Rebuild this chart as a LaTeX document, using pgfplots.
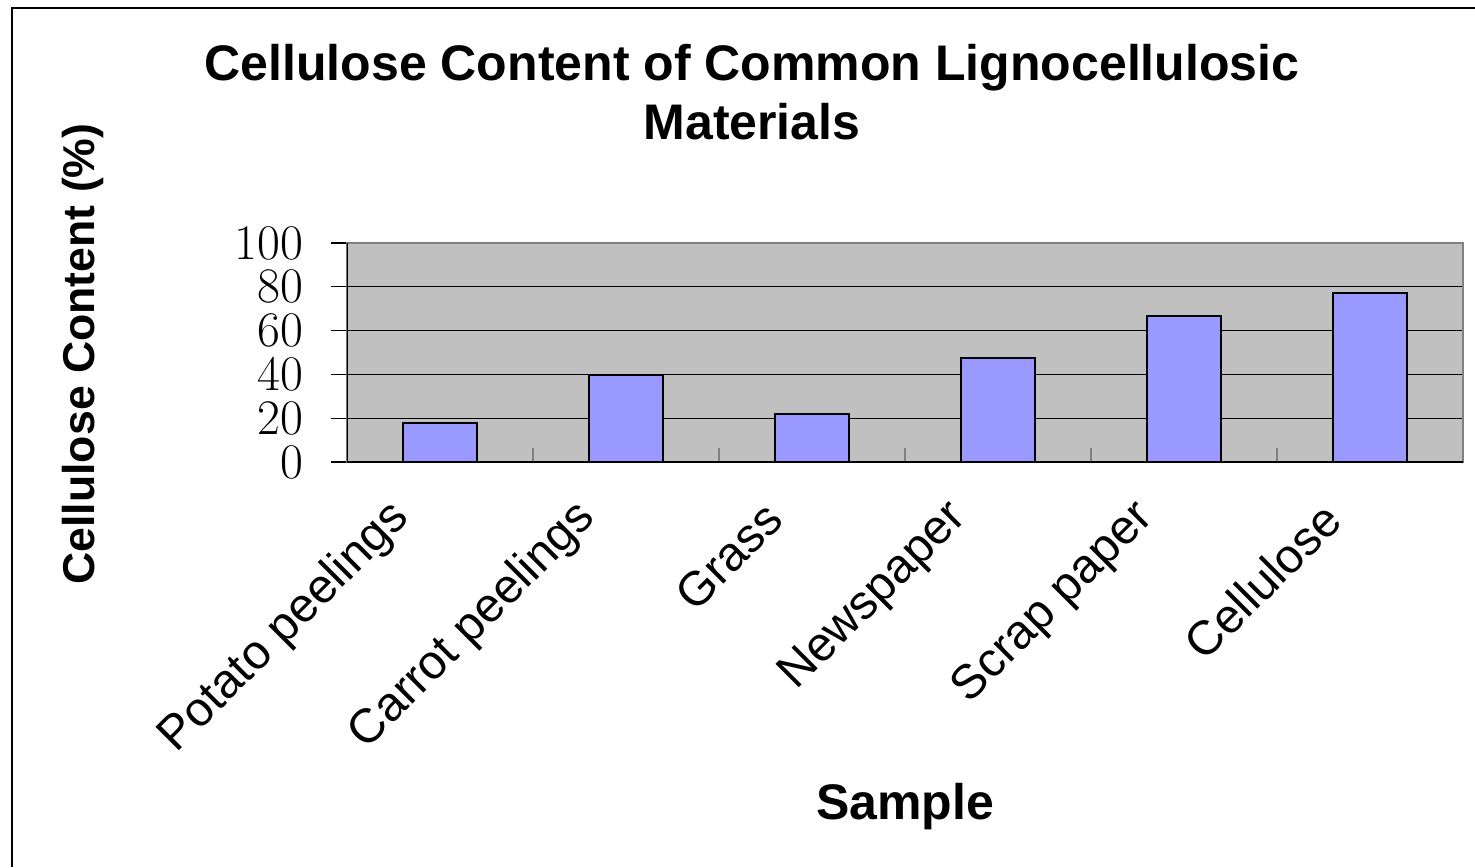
\documentclass[border=0pt]{standalone}
\usepackage{pgfplots}
\pgfplotsset{compat=1.18}
\usepackage{fontspec}
\setmainfont{Liberation Sans}
\definecolor{plotbg}{HTML}{C0C0C0}
\definecolor{barfill}{HTML}{9999FF}
\definecolor{frameg}{HTML}{808080}

\begin{document}
\begin{tikzpicture}
\useasboundingbox (-173.5pt,-202.5pt) rectangle (564pt,231pt);
\draw[line width=1pt] (-167.5pt,-202.5pt) -- (-167.5pt,227pt) -- (564pt,227pt);
\begin{axis}[
  scale only axis, width=558pt, height=109.5pt,
  ybar, bar width=0.4,
  xmin=-0.5, xmax=5.5, ymin=0, ymax=100,
  xtick={0,...,5},
  xticklabels={Potato peelings, Carrot peelings, Grass, Newspaper, Scrap paper, Cellulose},
  minor xtick={0.5,1.5,...,5.5},
  ytick={0,20,...,100},
  tick align=outside, xtick pos=bottom, ytick pos=left,
  major tick length=8pt, minor tick length=7pt,
  major x tick style={draw=none},
  minor x tick style={draw=frameg, line width=0.6pt, yshift=7pt},
  y tick style={black, line width=0.6pt},
  ymajorgrids, major grid style={black, line width=0.5pt},
  axis background/.style={fill=plotbg},
  axis line style={draw=frameg, line width=1pt},
  yticklabel style={font=\fontsize{25}{25}\selectfont, xshift=-10.5pt},
  xticklabel style={font=\fontsize{24}{24}\selectfont, rotate=45, anchor=east, xshift=-21.6pt, yshift=1.7pt},
  title={Cellulose Content of Common Lignocellulosic\\Materials},
  title style={at={(axis description cs:0.3629,1.632)}, anchor=center, align=center,
    font=\bfseries\fontsize{25}{29.5}\selectfont},
  xlabel={Sample},
  xlabel style={at={(axis description cs:0.5,-1.575)}, anchor=center,
    font=\bfseries\fontsize{25}{25}\selectfont},
  ylabel={Cellulose Content (\%)},
  ylabel style={at={(axis description cs:-0.2366,0.493)}, anchor=center,
    font=\bfseries\fontsize{22.3}{22.3}\selectfont},
]
\addplot[ybar, fill=barfill, draw=black, line width=1pt]
  coordinates {(0,17.8) (1,39.7) (2,21.9) (3,47.5) (4,66.7) (5,77.2)};
\draw[black, line width=1pt] (rel axis cs:0,1) -- (rel axis cs:0,0) -- (rel axis cs:1,0);
\end{axis}
\end{tikzpicture}
\end{document}
